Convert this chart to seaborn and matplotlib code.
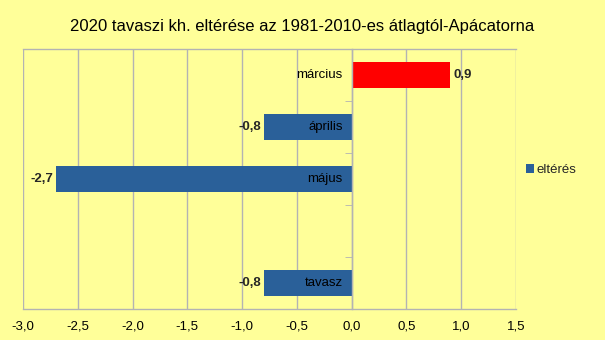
import numpy as np
import pandas as pd
import matplotlib
matplotlib.use("Agg")
import matplotlib.pyplot as plt
import matplotlib.patches as mpatches
from matplotlib.ticker import FixedLocator, FuncFormatter
import seaborn as sns

categories = ["március", "április", "május", " ", "tavasz"]
values = [0.9, -0.8, -2.7, np.nan, -0.8]
value_labels = ["0,9", "-0,8", "-2,7", "", "-0,8"]
bar_colors = ["#FF0000", "#2A6099", "#2A6099", "#2A6099", "#2A6099"]
xticks = [-3.0, -2.5, -2.0, -1.5, -1.0, -0.5, 0.0, 0.5, 1.0, 1.5]
title = "2020 tavaszi kh. eltérése az 1981-2010-es átlagtól-Apácatorna"
legend_label = "eltérés"

sns.set_style("white")
plt.rcParams["font.family"] = ["Liberation Sans", "DejaVu Sans"]

bg = "#FFFF99"
grid_c = "#B3B3B3"

df = pd.DataFrame({"cat": categories, "val": values})

fig = plt.figure(figsize=(6.05, 3.4), dpi=100, facecolor=bg)
ax = fig.add_axes([23/605, 1 - 309/340, (516 - 23)/605, (309 - 49)/340])
ax.set_facecolor(bg)

sns.barplot(data=df, x="val", y="cat", hue="cat", order=categories,
            hue_order=categories, palette=bar_colors, legend=False,
            width=0.5, orient="h", ax=ax, saturation=1, linewidth=0)

ax.set_xlim(-3.0, 1.5)
ax.set_ylim(4.5, -0.5)
ax.set_xticks(xticks)
ax.xaxis.set_major_formatter(FuncFormatter(lambda v, p: f"{v:.1f}".replace(".", ",")))
ax.tick_params(axis="x", length=4, color=grid_c, labelsize=9.5, labelcolor="#000000", pad=4)
ax.grid(axis="x", color=grid_c, lw=1)
ax.set_axisbelow(True)

ax.set_yticks([])
ax.yaxis.set_minor_locator(FixedLocator([0.5, 1.5, 2.5, 3.5]))
ax.tick_params(axis="y", which="minor", length=5, color=grid_c, direction="out", left=True)
ax.set_xlabel("")
ax.set_ylabel("")

for s in ["top", "bottom", "left", "right"]:
    ax.spines[s].set_color(grid_c)
    ax.spines[s].set_linewidth(1)
ax.spines["left"].set_position(("data", 0))
ax.spines["right"].set_visible(False)

for i, (c, v, lab) in enumerate(zip(categories, values, value_labels)):
    if np.isnan(v):
        continue
    ax.annotate(c.strip(), xy=(0, i), xytext=(-6.5, 0), textcoords="offset points",
                ha="right", va="center", fontsize=9.5, color="#000000")
    if v >= 0:
        ax.annotate(lab, xy=(v, i), xytext=(2, 0), textcoords="offset points",
                    ha="left", va="center", fontsize=9.5, fontweight="bold")
    else:
        ax.annotate(lab, xy=(v, i), xytext=(-2, 0), textcoords="offset points",
                    ha="right", va="center", fontsize=9.5, fontweight="bold")

fig.text(0.5, 1 - 27/340, title, ha="center", va="center", fontsize=12, color="#000000")

handle = mpatches.Patch(facecolor="#2A6099", edgecolor="none", label=legend_label)
fig.legend(handles=[handle], loc="center left", bbox_to_anchor=(519/605, 1 - 170/340),
           frameon=False, fontsize=9.5, handlelength=0.6, handleheight=0.6,
           handletextpad=0.25, borderpad=0)

fig.savefig("out.png", dpi=100, facecolor=bg)
